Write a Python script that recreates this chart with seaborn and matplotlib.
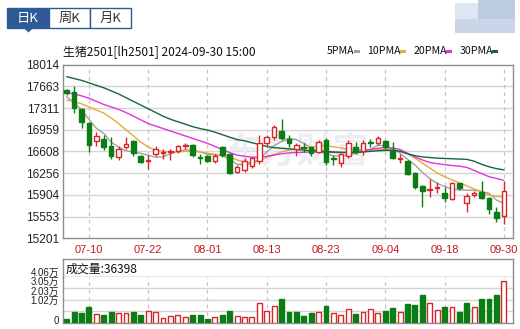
import numpy as np
import pandas as pd
import matplotlib
matplotlib.use("Agg")
import matplotlib.pyplot as plt
import seaborn as sns
from matplotlib.patches import Rectangle, Polygon

# ---------------- data ----------------
dates = ["07-05", "07-08", "07-09", "07-10", "07-11", "07-12", "07-15", "07-16", "07-17", "07-18",
         "07-19", "07-22", "07-23", "07-24", "07-25", "07-26", "07-29", "07-30", "07-31", "08-01",
         "08-02", "08-05", "08-06", "08-07", "08-08", "08-09", "08-12", "08-13", "08-14", "08-15",
         "08-16", "08-19", "08-20", "08-21", "08-22", "08-23", "08-26", "08-27", "08-28", "08-29",
         "08-30", "09-02", "09-03", "09-04", "09-05", "09-06", "09-09", "09-10", "09-11", "09-12",
         "09-13", "09-18", "09-19", "09-20", "09-23", "09-24", "09-25", "09-26", "09-27", "09-30"]
opens = [17600, 17566, 17301, 17069, 16772, 16810, 16696, 16524, 16686, 16777,
         16534, 16455, 16560, 16590, 16595, 16621, 16695, 16713, 16512, 16534,
         16459, 16675, 16567, 16281, 16308, 16370, 16450, 16740, 16837, 16939,
         16804, 16642, 16680, 16675, 16605, 16794, 16505, 16420, 16530, 16675,
         16610, 16760, 16740, 16777, 16621, 16490, 16459, 16254, 16048, 15980,
         16010, 15940, 15832, 16092, 15778, 15900, 15957, 15859, 15622, 15560]
highs = [17625, 17668, 17310, 17080, 16923, 16869, 16837, 16696, 16848, 16790,
         16550, 16551, 16700, 16642, 16653, 16713, 16740, 16729, 16570, 16545,
         16560, 16697, 16580, 16389, 16497, 16524, 16872, 16872, 17034, 17134,
         16872, 16740, 16740, 16686, 16794, 16820, 16550, 16578, 16800, 16767,
         16800, 16805, 16860, 16794, 16767, 16567, 16470, 16270, 16064, 16156,
         16118, 16027, 16110, 16102, 15930, 15970, 16135, 15870, 15714, 16135]
lows = [17530, 17226, 16983, 16605, 16702, 16632, 16486, 16470, 16642, 16540,
        16426, 16318, 16540, 16486, 16470, 16578, 16640, 16513, 16400, 16440,
        16415, 16513, 16245, 16254, 16281, 16335, 16400, 16686, 16794, 16794,
        16686, 16535, 16605, 16535, 16578, 16389, 16389, 16362, 16500, 16560,
        16550, 16675, 16713, 16640, 16480, 16426, 16227, 16000, 15714, 15870,
        15940, 15795, 15820, 15983, 15630, 15865, 15830, 15595, 15471, 15430]
closes = [17560, 17307, 17091, 16713, 16853, 16686, 16540, 16648, 16723, 16588,
          16443, 16470, 16640, 16600, 16610, 16696, 16712, 16551, 16502, 16459,
          16540, 16551, 16254, 16362, 16460, 16505, 16750, 16837, 17007, 16821,
          16750, 16713, 16670, 16578, 16767, 16443, 16490, 16560, 16740, 16605,
          16750, 16750, 16830, 16675, 16497, 16510, 16243, 16038, 15967, 16000,
          16040, 15849, 16102, 16010, 15886, 15930, 15849, 15681, 15530, 15960]
ma5 = [17495, 17400, 17280, 17130, 16983, 16900, 16760, 16680, 16620, 16600,
       16578, 16545, 16515, 16520, 16570, 16610, 16635, 16630, 16600, 16560,
       16550, 16540, 16480, 16400, 16390, 16416, 16480, 16605, 16700, 16770,
       16820, 16800, 16740, 16670, 16610, 16570, 16535, 16540, 16550, 16580,
       16610, 16645, 16710, 16700, 16650, 16580, 16480, 16390, 16270, 16170,
       16090, 16040, 16000, 15985, 15980, 15980, 15960, 15930, 15822, 15768]
ma10 = [17440, 17420, 17380, 17330, 17280, 17230, 17150, 17060, 16960, 16860,
        16760, 16680, 16630, 16610, 16600, 16600, 16610, 16610, 16600, 16580,
        16565, 16545, 16520, 16470, 16440, 16420, 16460, 16510, 16560, 16600,
        16630, 16650, 16660, 16680, 16700, 16700, 16685, 16665, 16645, 16635,
        16630, 16630, 16635, 16640, 16635, 16620, 16570, 16500, 16420, 16340,
        16260, 16200, 16150, 16100, 16050, 16000, 15960, 15900, 15880, 15870]
ma20 = [17560, 17540, 17510, 17470, 17420, 17370, 17330, 17290, 17240, 17180,
        17120, 17060, 17020, 16980, 16940, 16900, 16860, 16820, 16780, 16740,
        16690, 16640, 16590, 16550, 16530, 16515, 16515, 16530, 16550, 16570,
        16585, 16590, 16595, 16600, 16600, 16595, 16590, 16590, 16595, 16605,
        16620, 16640, 16660, 16670, 16665, 16640, 16580, 16520, 16470, 16430,
        16410, 16395, 16380, 16370, 16350, 16300, 16250, 16200, 16170, 16140]
ma30 = [17820, 17790, 17760, 17720, 17680, 17640, 17590, 17540, 17480, 17420,
        17360, 17300, 17240, 17180, 17130, 17090, 17050, 17010, 16980, 16955,
        16920, 16880, 16840, 16800, 16780, 16750, 16720, 16690, 16670, 16660,
        16650, 16640, 16630, 16620, 16615, 16610, 16600, 16595, 16590, 16590,
        16600, 16610, 16620, 16625, 16630, 16610, 16570, 16540, 16520, 16510,
        16500, 16495, 16490, 16485, 16480, 16450, 16400, 16360, 16330, 16310]
volumes = [2940, 9400, 8800, 14100, 7650, 6770, 9400, 8240, 8240, 9400,
           6770, 10300, 9120, 4120, 6180, 6770, 5300, 6770, 6770, 3530,
           4710, 6770, 10600, 5590, 4710, 4710, 17660, 10300, 14700, 20900,
           9400, 9400, 5890, 8530, 9400, 14700, 8530, 6480, 11800, 7650,
           9400, 11800, 8830, 10300, 12950, 9400, 16500, 15600, 24400, 17370,
           11200, 13800, 13800, 9400, 17370, 13800, 20900, 20900, 24400, 36398]
vol_up = [0, 0, 0, 0, 1, 0, 0, 1, 1, 0, 0, 1, 1, 1, 1, 1, 1, 0, 0, 0,
          1, 0, 0, 1, 1, 1, 1, 1, 1, 0, 0, 0, 0, 0, 1, 0, 1, 1, 1, 0,
          1, 1, 1, 0, 0, 1, 0, 0, 0, 1, 1, 0, 1, 0, 0, 1, 0, 0, 0, 1]

price_ticks = [15201, 15553, 15904, 16256, 16608, 16959, 17311, 17663, 18014]
date_ticks = ["07-10", "07-22", "08-01", "08-13", "08-23", "09-04", "09-18", "09-30"]
vol_max = 40600
vol_tick_labels = ["0", "1.02万", "2.03万", "3.05万", "4.06万"]
ma_names = ["5PMA", "10PMA", "20PMA", "30PMA"]
title = "生猪2501[lh2501] 2024-09-30 15:00"
volume_title = "成交量"
last_volume = 36398
tabs = ["日K", "周K", "月K"]

# ---------------- style ----------------
sns.set_style("white")
plt.rcParams["font.family"] = ["Liberation Sans", "Noto Sans CJK SC", "DejaVu Sans"]
CJK = ["Noto Sans CJK SC", "DejaVu Sans"]

RED = "#d9242a"
GREEN = "#0a7d14"
GRID = "#d6d6d6"
VGRID = "#c4c4c4"
SPINE = "#8e8e8e"
BLUE = "#2e5b98"
ma_colors = {"5PMA": "#a0a0a0", "10PMA": "#e8a93a", "20PMA": "#e034e0", "30PMA": "#12683c"}

W, H = 520, 329
fig = plt.figure(figsize=(W / 100, H / 100), dpi=100)


def fr(left, top, right, bottom):
    return [left / W, 1 - bottom / H, (right - left) / W, (bottom - top) / H]


n = len(dates)
idx = np.arange(n)
xlim = (-0.5, n - 1 + 1.24)

# ---------------- price panel ----------------
ax = fig.add_axes(fr(63, 64.7, 513, 238.3))
ax.set_xlim(*xlim)
ax.set_ylim(price_ticks[0], price_ticks[-1])

tick_pos = [dates.index(d) for d in date_ticks]
for p in price_ticks[1:-1]:
    ax.axhline(p, color=GRID, lw=1, zorder=1)
for t in tick_pos:
    ax.axvline(t, color=VGRID, lw=0.9, ls=(0, (3, 3)), zorder=1)

# watermark
ax.text(0.52, 0.50, "东方财富", transform=ax.transAxes, ha="center", va="center",
        fontsize=26, fontweight="bold", color="#eeeef2", family=CJK, zorder=1.5)

# moving averages via seaborn
df_ma = pd.DataFrame({"idx": np.tile(idx, 4),
                      "value": np.concatenate([ma5, ma10, ma20, ma30]),
                      "ma": np.repeat(ma_names, n)})
sns.lineplot(data=df_ma, x="idx", y="value", hue="ma", palette=ma_colors,
             hue_order=ma_names, legend=False, lw=1.0, ax=ax, zorder=3)

# candles
bw = 0.62
for i in range(n):
    o, h, l, c = opens[i], highs[i], lows[i], closes[i]
    up = c >= o
    col = RED if up else GREEN
    top, bot = max(o, c), min(o, c)
    ax.vlines(i, l, h, color=col, lw=1.0, zorder=4)
    ax.add_patch(Rectangle((i - bw / 2, bot), bw, max(top - bot, 10),
                           facecolor="white" if up else col, edgecolor=col,
                           lw=1.0, zorder=5))

ax.set_yticks(price_ticks)
ax.set_yticklabels([str(p) for p in price_ticks], fontsize=8.6, color="#222222")
ax.set_xticks(tick_pos)
ax.set_xticklabels(date_ticks, fontsize=8, color="#c3161c")
ax.tick_params(axis="both", length=0)
ax.tick_params(axis="y", pad=3)
ax.tick_params(axis="x", pad=4.5)
ax.set_xlabel("")
ax.set_ylabel("")
for s in ax.spines.values():
    s.set_color(SPINE)
    s.set_linewidth(1)

# ---------------- volume header ----------------
axh = fig.add_axes(fr(63, 259.3, 513, 276.7))
axh.set_xticks([])
axh.set_yticks([])
for s in axh.spines.values():
    s.set_color(SPINE)
    s.set_linewidth(1)
axh.text(0.006, 0.45, f"{volume_title}:{last_volume}", transform=axh.transAxes,
         ha="left", va="center", fontsize=8.6, family=CJK, color="#111111")

# ---------------- volume panel ----------------
axv = fig.add_axes(fr(63, 276.7, 513, 322.7))
axv.set_xlim(*xlim)
axv.set_ylim(0, vol_max)
for k in range(1, 4):
    axv.axhline(vol_max * k / 4, color=GRID, lw=1, zorder=1)
for t in tick_pos:
    axv.axvline(t, color=VGRID, lw=0.9, ls=(0, (3, 3)), zorder=1)
vw = 0.66
for i in range(n):
    col = RED if vol_up[i] else GREEN
    axv.bar(i, volumes[i], width=vw, facecolor="white" if vol_up[i] else col,
            edgecolor=col, lw=1.0, zorder=3)
axv.set_xticks([])
axv.set_yticks([])
for s in axv.spines.values():
    s.set_color(SPINE)
    s.set_linewidth(1)
axv.spines["top"].set_visible(False)
# labels sit compressed near the top of the pane, as in the reference
label_px = [321.5, 301.2, 291.8, 282.4, 273.0]
for lab, py in zip(vol_tick_labels, label_px):
    axv.text(-0.009, (322.7 - py) / 46.0, lab, transform=axv.transAxes, ha="right",
             va="center", fontsize=7.0, color="#222222",
             family=["Liberation Sans", "Noto Sans CJK SC"])

# ---------------- overlay (title, legend, tabs) ----------------
ov = fig.add_axes([0, 0, 1, 1])
ov.set_xlim(0, W)
ov.set_ylim(H, 0)
ov.axis("off")
ov.patch.set_alpha(0)

ov.text(63, 51.5, title, ha="left", va="center", fontsize=8.6, family=CJK, color="#111111")

x = 327
for name in ma_names:
    ov.text(x, 51.5, name, ha="left", va="center", fontsize=7.6, family=CJK, color="#111111")
    w = {"5PMA": 24.5, "10PMA": 30, "20PMA": 30, "30PMA": 30}[name]
    ov.add_patch(Rectangle((x + w + 2, 50), 6, 3, facecolor=ma_colors[name], edgecolor="none"))
    x += w + 16

# blurred corner blob
ov.add_patch(Rectangle((455, 3), 30, 16, facecolor="#dfe6f1", edgecolor="none"))
ov.add_patch(Rectangle((478, 0), 37, 24, facecolor="#bccbe0", edgecolor="none"))
ov.add_patch(Rectangle((455, 19), 60, 14, facecolor="#cad6e8", edgecolor="none"))

# tabs
tab_x = [7.3, 48.7, 89.7, 130.5]
for k, lab in enumerate(tabs):
    sel = k == 0
    ov.add_patch(Rectangle((tab_x[k], 8.3), tab_x[k + 1] - tab_x[k], 20,
                           facecolor=BLUE if sel else "white", edgecolor=BLUE, lw=1))
    ov.text((tab_x[k] + tab_x[k + 1]) / 2, 18.5, lab, ha="center", va="center",
            fontsize=9.5, family=CJK, color="white" if sel else "#333333")
ov.add_patch(Polygon([[24, 28.3], [33, 28.3], [28.5, 32.5]], closed=True,
                     facecolor=BLUE, edgecolor="none"))

fig.savefig("out.png", dpi=100)
